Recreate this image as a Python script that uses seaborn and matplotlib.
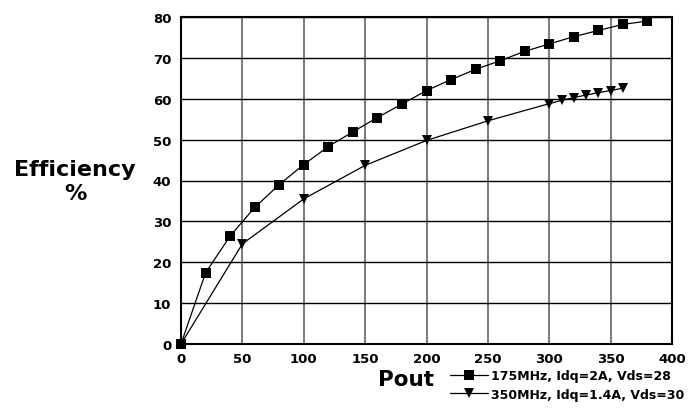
import numpy as np
import pandas as pd
import matplotlib
matplotlib.use("Agg")
import matplotlib.pyplot as plt
import seaborn as sns

# series
pout_175 = [0, 20, 40, 60, 80, 100, 120, 140, 160, 180, 200, 220, 240, 260,
            280, 300, 320, 340, 360, 380]
eff_175 = [0, 17.4, 26.4, 33.4, 39.0, 43.9, 48.3, 51.9, 55.4, 58.7, 62.0, 64.7,
           67.2, 69.3, 71.6, 73.4, 75.2, 76.7, 78.2, 79.0]
pout_350 = [0, 50, 100, 150, 200, 250, 300, 310, 320, 330, 340, 350, 360]
eff_350 = [0, 24.5, 35.5, 43.7, 49.8, 54.6, 58.8, 59.6, 60.3, 60.9, 61.5, 62.0, 62.6]
label_175 = "175MHz, Idq=2A, Vds=28"
label_350 = "350MHz, Idq=1.4A, Vds=30"

df = pd.concat([
    pd.DataFrame({"Pout": pout_175, "Eff": eff_175, "series": label_175}),
    pd.DataFrame({"Pout": pout_350, "Eff": eff_350, "series": label_350}),
])

sns.set_style("white")
plt.rcParams["font.family"] = ["DejaVu Sans"]
plt.rcParams["font.weight"] = "bold"
plt.rcParams["text.color"] = "black"
plt.rcParams["xtick.color"] = "black"
plt.rcParams["ytick.color"] = "black"

fig = plt.figure(figsize=(6.93, 4.10), dpi=100)
ax = fig.add_axes([181 / 693, 1 - 345 / 410, (672 - 181) / 693, (345 - 18) / 410])

sns.lineplot(data=df, x="Pout", y="Eff", hue="series", style="series",
             palette=["black", "black"], markers={label_175: "s", label_350: "v"},
             dashes=False, markersize=7.5, linewidth=0.9, markeredgewidth=0,
             sort=False, ax=ax, legend=True)
for ln in ax.lines:
    ln.set_clip_on(False)
    ln.set_zorder(3)

ax.set_xlim(0, 400)
ax.set_ylim(0, 80)
ax.set_xticks(np.arange(0, 401, 50))
ax.set_yticks(np.arange(0, 81, 10))
ax.set_xlabel("")
ax.set_ylabel("")
for lab in ax.get_xticklabels() + ax.get_yticklabels():
    lab.set_fontweight("bold")
ax.tick_params(axis="both", length=0, labelsize=9.5, colors="black")
ax.tick_params(axis="x", pad=6)
ax.tick_params(axis="y", pad=7)

ax.xaxis.grid(True, color="#555555", linewidth=1.1)
ax.yaxis.grid(True, color="black", linewidth=1.0)
ax.set_axisbelow(True)
for s in ax.spines.values():
    s.set_visible(True)
    s.set_color("black")
    s.set_linewidth(1.5)

handles, labels = ax.get_legend_handles_labels()
ax.get_legend().remove()
leg = fig.legend(handles, labels, loc="upper left",
                 bbox_to_anchor=(450 / 693, 1 - 370 / 410),
                 frameon=False, prop={"size": 9, "weight": "bold"}, handlelength=3.0,
                 handletextpad=0.25, borderpad=0, borderaxespad=0, labelspacing=0.45)
for t in leg.get_texts():
    t.set_color("black")

fig.text(406 / 693, 1 - 380 / 410, "Pout", fontsize=15.5, fontweight="bold",
         ha="center", va="center", color="black")
fig.text(75 / 693, 1 - 182 / 410, "Efficiency\n%", fontsize=16, fontweight="bold",
         ha="center", va="center", linespacing=1.2, color="black")

fig.savefig("out.png", dpi=100)
